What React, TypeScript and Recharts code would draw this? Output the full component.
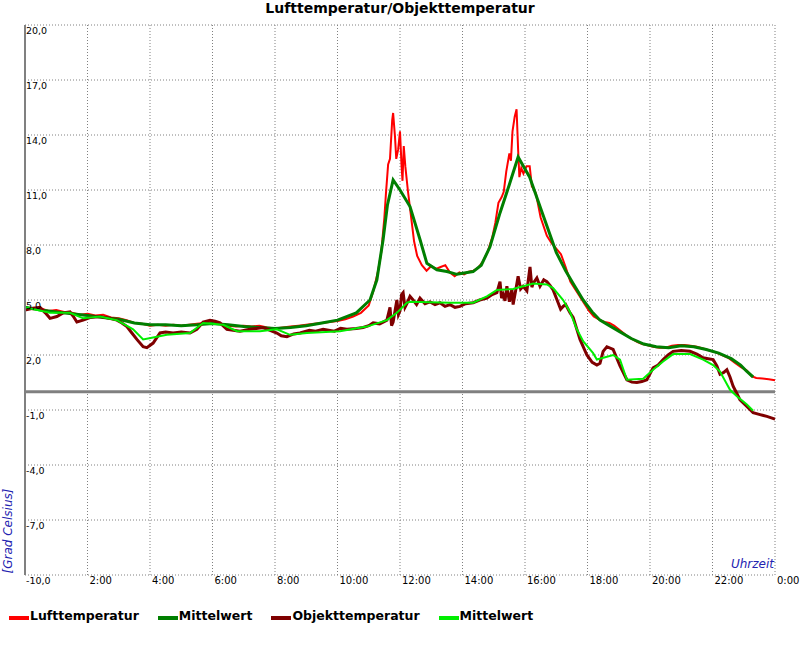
import React from "react";
import { LineChart, Line, XAxis, YAxis, CartesianGrid, ReferenceLine } from "recharts";

type Pt = [number, number];

// [Stunde, Grad Celsius]
const lufttemperatur: Pt[] = [
  [0, 4.6], [0.25, 4.5], [0.5, 4.55], [0.75, 4.4], [1, 4.45], [1.25, 4.35], [1.5, 4.3], [1.75, 4.2],
  [2, 4.25], [2.25, 4.15], [2.5, 4.2], [2.75, 4.05], [3, 4.0], [3.25, 3.9], [3.5, 3.75], [3.75, 3.7],
  [4, 3.6], [4.25, 3.65], [4.5, 3.6], [4.75, 3.65], [5, 3.6], [5.25, 3.65], [5.5, 3.7], [5.75, 3.75],
  [6, 3.85], [6.25, 3.7], [6.5, 3.6], [6.75, 3.55], [7, 3.6], [7.25, 3.55], [7.5, 3.6], [7.75, 3.5],
  [8, 3.45], [8.25, 3.5], [8.5, 3.55], [8.75, 3.6], [9, 3.65], [9.25, 3.7], [9.5, 3.75], [9.75, 3.8],
  [10, 3.85], [10.25, 3.95], [10.5, 4.1], [10.75, 4.3], [11, 4.7], [11.15, 5.5], [11.3, 6.6], [11.4, 7.6],
  [11.5, 9.5], [11.55, 10.8], [11.62, 12.4], [11.68, 12.7], [11.75, 14.8], [11.78, 15.2], [11.84, 13.9],
  [11.88, 12.7], [11.94, 13.2], [12, 14.2], [12.05, 12.3], [12.08, 11.5], [12.12, 13.4], [12.17, 12.3],
  [12.25, 11.0], [12.35, 9.6], [12.45, 8.2], [12.55, 7.4], [12.7, 6.9], [12.85, 6.6], [13, 6.85],
  [13.15, 6.7], [13.3, 6.8], [13.45, 6.9], [13.6, 6.5], [13.75, 6.3], [13.9, 6.5], [14.05, 6.4],
  [14.2, 6.55], [14.35, 6.6], [14.5, 6.75], [14.65, 7.1], [14.8, 7.6], [14.95, 8.4], [15.05, 9.2],
  [15.15, 10.3], [15.25, 10.6], [15.32, 10.9], [15.4, 12.0], [15.5, 13.0], [15.55, 12.6], [15.6, 14.2],
  [15.67, 15.0], [15.73, 15.4], [15.78, 13.2], [15.82, 11.7], [15.88, 12.2], [15.95, 11.9], [16.05, 12.3],
  [16.15, 12.3], [16.22, 11.2], [16.3, 11.0], [16.35, 10.8], [16.5, 9.5], [16.7, 8.5], [16.85, 8.1],
  [17, 7.8], [17.15, 7.5], [17.3, 6.8], [17.45, 6.0], [17.6, 5.6], [17.75, 5.2], [17.9, 4.8],
  [18.05, 4.4], [18.2, 4.1], [18.4, 3.9], [18.55, 3.8], [18.7, 3.75], [18.85, 3.6], [19, 3.4],
  [19.15, 3.2], [19.3, 3.0], [19.45, 2.85], [19.6, 2.7], [19.75, 2.6], [19.9, 2.55], [20.1, 2.45],
  [20.3, 2.4], [20.5, 2.4], [20.7, 2.5], [20.9, 2.55], [21.1, 2.55], [21.3, 2.5], [21.5, 2.45],
  [21.7, 2.35], [21.9, 2.25], [22.1, 2.15], [22.3, 2.0], [22.5, 1.85], [22.7, 1.6], [22.9, 1.35],
  [23.1, 1.15], [23.25, 0.85], [23.4, 0.75], [23.6, 0.72], [23.8, 0.68], [24, 0.62],
];

const luftMittelwert: Pt[] = [
  [0, 4.6], [0.5, 4.45], [1, 4.35], [1.5, 4.25], [2, 4.15], [2.5, 4.05], [3, 3.95], [3.5, 3.75],
  [4, 3.65], [4.5, 3.65], [5, 3.6], [5.5, 3.65], [6, 3.72], [6.5, 3.65], [7, 3.55], [7.5, 3.5],
  [8, 3.45], [8.5, 3.5], [9, 3.6], [9.5, 3.75], [10, 3.9], [10.6, 4.3], [11.04, 5.0], [11.26, 6.1],
  [11.46, 8.3], [11.6, 10.2], [11.78, 11.55], [12, 11.0], [12.32, 10.1], [12.64, 8.3], [12.86, 7.0],
  [13.18, 6.65], [13.5, 6.55], [13.82, 6.4], [14.34, 6.55], [14.6, 6.9], [14.88, 7.9], [15.2, 9.75],
  [15.5, 11.3], [15.78, 12.8], [16.15, 11.7], [16.5, 10.0], [17, 7.6], [17.3, 6.6], [17.54, 5.9],
  [17.86, 5.0], [18.15, 4.35], [18.4, 3.9], [18.7, 3.6], [19, 3.3], [19.4, 2.9], [19.8, 2.6],
  [20.2, 2.45], [20.6, 2.4], [21, 2.5], [21.4, 2.45], [21.8, 2.3], [22.2, 2.1], [22.6, 1.8],
  [22.9, 1.45], [23.1, 1.1], [23.3, 0.8],
];

const objekttemperatur: Pt[] = [
  [0, 4.45], [0.25, 4.55], [0.48, 4.6], [0.65, 4.3], [0.8, 4.0], [1.02, 4.1], [1.22, 4.3], [1.44, 4.35],
  [1.55, 4.1], [1.66, 3.8], [1.86, 3.9], [2.1, 4.05], [2.4, 4.1], [2.7, 4.0], [2.94, 3.9], [3.1, 3.75],
  [3.26, 3.55], [3.42, 3.2], [3.58, 2.85], [3.78, 2.45], [3.9, 2.4], [4.1, 2.65], [4.32, 3.2],
  [4.5, 3.25], [4.74, 3.2], [5, 3.25], [5.28, 3.2], [5.5, 3.4], [5.7, 3.8], [5.92, 3.9], [6.08, 3.85],
  [6.24, 3.75], [6.46, 3.4], [6.66, 3.35], [6.88, 3.3], [7.2, 3.4], [7.4, 3.45], [7.62, 3.5],
  [7.84, 3.35], [8.06, 3.2], [8.2, 3.05], [8.38, 3.0], [8.6, 3.15], [8.8, 3.2], [9.1, 3.35], [9.3, 3.3],
  [9.54, 3.4], [9.9, 3.3], [10.1, 3.45], [10.3, 3.4], [10.6, 3.45], [10.82, 3.5], [11, 3.6],
  [11.14, 3.75], [11.35, 3.7], [11.58, 3.9], [11.68, 4.6], [11.73, 3.6], [11.78, 3.8], [11.84, 4.4],
  [11.9, 5.0], [11.95, 4.2], [12, 4.4], [12.05, 5.3], [12.1, 5.4], [12.16, 4.6], [12.22, 4.8],
  [12.32, 5.2], [12.42, 5.0], [12.53, 4.75], [12.64, 5.1], [12.8, 4.8], [12.96, 4.9], [13.12, 4.75],
  [13.28, 4.85], [13.44, 4.65], [13.6, 4.75], [13.76, 4.6], [13.92, 4.65], [14.1, 4.8], [14.34, 4.85],
  [14.55, 5.0], [14.78, 5.1], [14.95, 5.3], [15.1, 5.4], [15.2, 6.0], [15.25, 5.1], [15.3, 5.3],
  [15.36, 4.95], [15.42, 5.75], [15.5, 4.9], [15.58, 5.6], [15.62, 4.75], [15.7, 5.5], [15.78, 6.3],
  [15.86, 5.6], [15.94, 5.75], [16.06, 5.5], [16.16, 6.8], [16.22, 5.7], [16.26, 5.9], [16.38, 6.2],
  [16.48, 5.75], [16.6, 6.1], [16.7, 6.0], [16.8, 5.8], [16.9, 5.55], [17.06, 4.85], [17.14, 4.5],
  [17.22, 4.65], [17.3, 4.75], [17.44, 4.3], [17.54, 4.05], [17.76, 2.85], [17.98, 2.0], [18.15, 1.6],
  [18.3, 1.45], [18.4, 1.55], [18.5, 2.2], [18.62, 2.45], [18.82, 2.3], [19.04, 1.4], [19.26, 0.65],
  [19.42, 0.52], [19.58, 0.5], [19.74, 0.55], [19.9, 0.65], [20.1, 1.3], [20.26, 1.45], [20.42, 1.75],
  [20.58, 2.0], [20.74, 2.2], [21, 2.25], [21.28, 2.2], [21.5, 2.05], [21.7, 1.85], [21.86, 1.8],
  [22.02, 1.75], [22.14, 1.4], [22.24, 0.95], [22.36, 1.05], [22.46, 1.2], [22.56, 0.8], [22.66, 0.3],
  [22.78, -0.1], [22.88, -0.45], [23.1, -0.8], [23.3, -1.15], [23.52, -1.25], [23.74, -1.35], [24, -1.5],
];

const objektMittelwert: Pt[] = [
  [0, 4.6], [0.8, 4.3], [1.44, 4.3], [1.86, 4.0], [2.4, 4.1], [2.94, 3.9], [3.46, 3.4], [3.78, 2.85],
  [4.1, 2.95], [4.54, 3.1], [5.28, 3.2], [5.7, 3.75], [6.34, 3.65], [6.78, 3.3], [7.52, 3.3],
  [8.06, 3.4], [8.48, 3.1], [9.02, 3.2], [10.08, 3.3], [10.94, 3.55], [11.58, 3.9], [11.9, 4.3],
  [12.22, 4.85], [12.32, 4.9], [13.6, 4.85], [14.34, 4.85], [14.78, 5.2], [15.1, 5.55], [15.62, 5.6],
  [15.94, 5.75], [16.26, 5.9], [16.7, 5.85], [16.9, 5.65], [17.22, 5.0], [17.44, 4.35], [17.66, 3.4],
  [17.86, 2.75], [18.18, 2.1], [18.3, 1.75], [18.82, 2.0], [19.04, 1.75], [19.26, 0.65], [19.78, 0.7],
  [20.1, 1.2], [20.42, 1.65], [20.74, 2.05], [21.28, 2.05], [21.7, 1.75], [22.02, 1.45], [22.24, 1.1],
  [22.56, 0.1], [22.78, -0.25], [23.1, -0.7], [23.3, -1.04],
];

const hourTicks = [0, 2, 4, 6, 8, 10, 12, 14, 16, 18, 20, 22, 24];
const tempTicks = [20, 17, 14, 11, 8, 5, 2, -1, -4, -7, -10];

const series = [
  { key: "luft", name: "Lufttemperatur", color: "#ff0000", width: 2, points: lufttemperatur },
  { key: "luftMw", name: "Mittelwert", color: "#007f00", width: 3, points: luftMittelwert },
  { key: "objekt", name: "Objekttemperatur", color: "#7f0000", width: 3, points: objekttemperatur },
  { key: "objektMw", name: "Mittelwert", color: "#00ee00", width: 2, points: objektMittelwert },
];

const FONT = "'DejaVu Sans', Verdana, sans-serif";
const LABEL_BLUE = "#2323b0";

const toRows = (pts: Pt[]) => pts.map(([h, v]) => ({ h, v }));
const fmtTemp = (v: number) => v.toFixed(1).replace(".", ",");
const fmtHour = (h: number) => `${h % 24}:00`;

function renderHourTick(props: any) {
  const { x, y, payload } = props;
  if (payload.value === 0) return <g />;
  return (
    <text x={x + 2} y={y + 9} fontSize={10} fontFamily={FONT} fill="#000">
      {fmtHour(payload.value)}
    </text>
  );
}

function renderTempTick(props: any) {
  const { x, y, payload } = props;
  return (
    <text x={x + 1} y={y + 9} fontSize={9.5} fontFamily={FONT} fill="#000">
      {fmtTemp(payload.value)}
    </text>
  );
}

export default function App() {
  return (
    <div style={{ position: "absolute", left: 0, top: 0, width: 800, height: 650, background: "#fff", fontFamily: FONT }}>
      <div style={{ position: "absolute", left: 0, top: 0, width: 800, textAlign: "center", fontWeight: "bold", fontSize: 14 }}>
        Lufttemperatur/Objekttemperatur
      </div>

      <LineChart width={800} height={650} margin={{ top: 25, right: 25, bottom: 74, left: 24 }}>
        <CartesianGrid stroke="#808080" strokeDasharray="1 2" />
        <XAxis
          type="number"
          dataKey="h"
          domain={[0, 24]}
          ticks={hourTicks}
          interval={0}
          height={1}
          axisLine={false}
          tickLine={false}
          tickSize={0}
          tickMargin={0}
          tick={renderHourTick}
          allowDuplicatedCategory={false}
        />
        <YAxis
          type="number"
          domain={[-10, 20]}
          ticks={tempTicks}
          interval={0}
          width={1}
          axisLine={{ stroke: "#808080", strokeWidth: 2 }}
          tickLine={false}
          tickSize={0}
          tickMargin={0}
          tick={renderTempTick}
        />
        <ReferenceLine y={0} stroke="#808080" strokeWidth={3} />
        {series.map((s) => (
          <Line
            key={s.key}
            data={toRows(s.points)}
            dataKey="v"
            type="linear"
            stroke={s.color}
            strokeWidth={s.width}
            dot={false}
            isAnimationActive={false}
          />
        ))}
      </LineChart>

      <div style={{ position: "absolute", right: 26, top: 557, fontStyle: "italic", fontSize: 12, color: LABEL_BLUE }}>
        Uhrzeit
      </div>
      <div
        style={{
          position: "absolute",
          left: 8,
          top: 531,
          transform: "translate(-50%, -50%) rotate(-90deg)",
          whiteSpace: "nowrap",
          fontStyle: "italic",
          fontSize: 12,
          color: LABEL_BLUE,
        }}
      >
        [Grad Celsius]
      </div>

      <div style={{ position: "absolute", left: 9, top: 608, display: "flex", fontWeight: "bold", fontSize: 12.5 }}>
        {series.map((s) => (
          <div key={s.key} style={{ display: "flex", alignItems: "center", marginRight: 19 }}>
            <span style={{ display: "inline-block", width: 20, height: 4, background: s.color, marginTop: 5 }} />
            <span style={{ marginLeft: 1 }}>{s.name}</span>
          </div>
        ))}
      </div>
    </div>
  );
}
